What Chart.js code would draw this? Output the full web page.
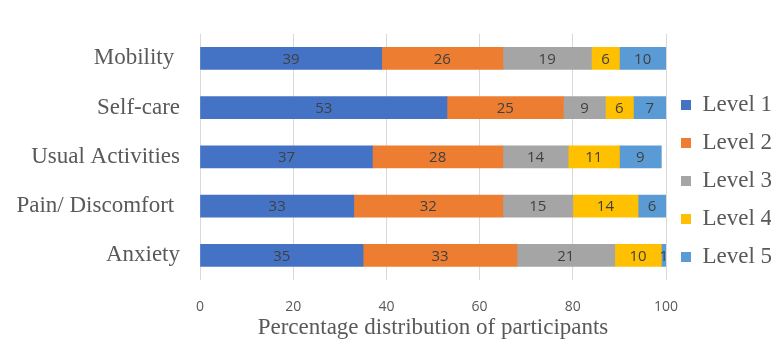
<!DOCTYPE html>
<html>
<head>
<meta charset="utf-8">
<script src="https://cdn.jsdelivr.net/npm/chart.js@4/dist/chart.umd.min.js"></script>
<style>
  html, body { margin: 0; padding: 0; background: #fff; }
  #wrap { width: 771px; height: 350px; }
</style>
</head>
<body>
<div id="wrap"><canvas id="eq5dChart"></canvas></div>
<script>
// EQ-5D dimensions, stacked by response level (percent of participants)
const categories = ['Mobility ', 'Self-care', 'Usual Activities', 'Pain/ Discomfort ', 'Anxiety'];
const levelNames = ['Level 1', 'Level 2', 'Level 3', 'Level 4', 'Level 5'];
const level1 = [39, 53, 37, 33, 35];
const level2 = [26, 25, 28, 32, 33];
const level3 = [19, 9, 14, 15, 21];
const level4 = [6, 6, 11, 14, 10];
const level5 = [10, 7, 9, 6, 1];
const xTicks = [0, 20, 40, 60, 80, 100];

const COLORS = ['#4472C4', '#ED7D31', '#A5A5A5', '#FFC000', '#5B9BD5'];
const SERIF = '"Liberation Serif", "Times New Roman", serif';
const SANS = '"Open Sans", "DejaVu Sans", sans-serif';

// ---------- value labels inside each segment ----------
const segmentLabels = {
    id: 'segmentLabels',
    afterDatasetsDraw(chart) {
        const ctx = chart.ctx;
        ctx.save();
        ctx.font = '15px ' + SANS;
        ctx.fillStyle = '#404040';
        ctx.textAlign = 'center';
        ctx.textBaseline = 'middle';
        chart.data.datasets.forEach((ds, i) => {
            const meta = chart.getDatasetMeta(i);
            meta.data.forEach((bar, j) => {
                const v = ds.data[j];
                if (!v) return;
                ctx.fillText(String(v), (bar.x + bar.base) / 2, bar.y + 1);
            });
        });
        ctx.restore();
    }
};

const series = [level1, level2, level3, level4, level5];

new Chart(document.getElementById('eq5dChart'), {
    type: 'bar',
    data: {
        labels: categories,
        datasets: series.map((data, i) => ({
            label: levelNames[i],
            data,
            backgroundColor: COLORS[i],
            borderWidth: 0,
            barThickness: 22,
        }))
    },
    options: {
        indexAxis: 'y',
        responsive: true,
        maintainAspectRatio: false,
        animation: false,
        layout: { padding: { top: 12, left: 0, right: 0, bottom: 0 } },
        plugins: {
            legend: {
                position: 'right',
                align: 'center',
                maxWidth: 105,
                labels: {
                    boxWidth: 10,
                    boxHeight: 10,
                    padding: 15,
                    color: '#595959',
                    font: { family: SERIF, size: 23 }
                }
            },
            tooltip: { enabled: false }
        },
        scales: {
            x: {
                stacked: true,
                min: 0,
                max: 100,
                afterBuildTicks: (s) => { s.ticks = xTicks.map(v => ({ value: v })); },
                afterFit: (s) => { s.height = 70; },
                ticks: { color: '#595959', font: { family: SANS, size: 14 }, padding: 19 },
                grid: { color: '#d9d9d9', drawTicks: false },
                border: { display: false },
                title: {
                    display: true,
                    text: 'Percentage distribution of participants',
                    color: '#595959',
                    font: { family: SERIF, size: 23 },
                    padding: { top: 2, bottom: 8 }
                }
            },
            y: {
                stacked: true,
                afterFit: (s) => { s.width = 200; },
                ticks: { color: '#595959', font: { family: SERIF, size: 23 }, padding: 20 },
                grid: { display: false, drawTicks: false },
                border: { display: false }
            }
        }
    },
    plugins: [segmentLabels]
});
</script>
</body>
</html>
